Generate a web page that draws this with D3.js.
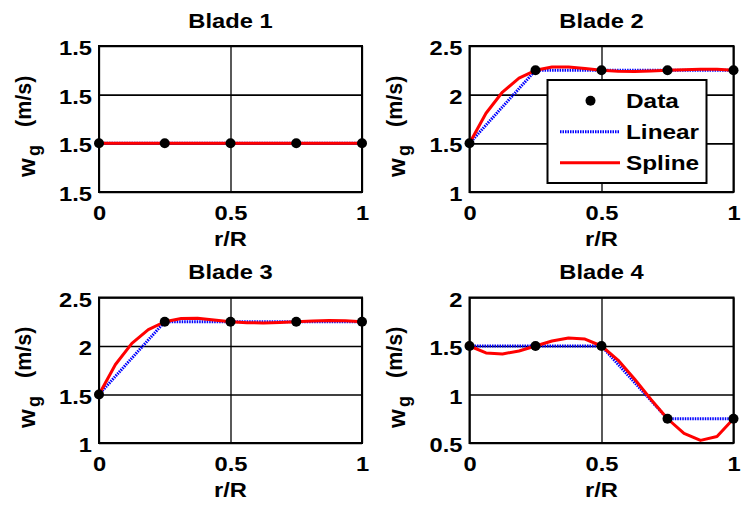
<!DOCTYPE html>
<html>
<head>
<meta charset="utf-8">
<script src="https://cdn.jsdelivr.net/npm/d3@7"></script>
<style>
  html, body { margin: 0; padding: 0; background: #fff; }
  text { font-family: "Liberation Sans", Arial, sans-serif; font-weight: bold; fill: #000; }
</style>
</head>
<body>
<svg id="chart" width="743" height="508"></svg>
<script>
// ---- data ----
const titles = ["Blade 1", "Blade 2", "Blade 3", "Blade 4"];
const xData = [0, 0.25, 0.5, 0.75, 1];
const blade1 = [1.5, 1.5, 1.5, 1.5, 1.5];
const blade2 = [1.5, 2.25, 2.25, 2.25, 2.25];
const blade3 = [1.5, 2.25, 2.25, 2.25, 2.25];
const blade4 = [1.5, 1.5, 1.5, 0.75, 0.75];
const xFine = [0, 0.0625, 0.125, 0.1875, 0.25, 0.3125, 0.375, 0.4375, 0.5,
               0.5625, 0.625, 0.6875, 0.75, 0.8125, 0.875, 0.9375, 1];
const spline1 = [1.5, 1.5, 1.5, 1.5, 1.5, 1.5, 1.5, 1.5, 1.5, 1.5, 1.5, 1.5, 1.5, 1.5, 1.5, 1.5, 1.5];
const spline2 = [1.5, 1.809, 2.027, 2.169, 2.25, 2.284, 2.285, 2.269, 2.25,
                 2.240, 2.238, 2.243, 2.25, 2.257, 2.262, 2.260, 2.25];
const spline3 = [1.5, 1.809, 2.027, 2.169, 2.25, 2.284, 2.285, 2.269, 2.25,
                 2.240, 2.238, 2.243, 2.25, 2.257, 2.262, 2.260, 2.25];
const spline4 = [1.5, 1.428, 1.418, 1.449, 1.5, 1.551, 1.582, 1.572, 1.5,
                 1.355, 1.160, 0.948, 0.75, 0.599, 0.527, 0.567, 0.75];
const xTicks = [0, 0.5, 1];
const yTicks1 = [1.4999, 1.5, 1.5001, 1.5002];
const yTicks2 = [1, 1.5, 2, 2.5];
const yTicks3 = [1, 1.5, 2, 2.5];
const yTicks4 = [0.5, 1, 1.5, 2];
const legendLabels = ["Data", "Linear", "Spline"];

const panels = [
  { title: titles[0], data: blade1, spline: spline1, yTicks: yTicks1, fmt: d3.format(".1f"),
    x0: 99, x1: 362, y0: 46, y1: 192 },
  { title: titles[1], data: blade2, spline: spline2, yTicks: yTicks2, fmt: d3.format("~g"),
    x0: 469.5, x1: 733.5, y0: 46, y1: 192, legend: true },
  { title: titles[2], data: blade3, spline: spline3, yTicks: yTicks3, fmt: d3.format("~g"),
    x0: 99, x1: 362, y0: 297.5, y1: 443 },
  { title: titles[3], data: blade4, spline: spline4, yTicks: yTicks4, fmt: d3.format("~g"),
    x0: 469.5, x1: 733.5, y0: 297.5, y1: 443 }
];

const svg = d3.select("#chart");
const FS = 21;
const SX = 1.13; // horizontal glyph stretch seen in the reference

function label(parent, x, y, str, size, anchor, rot, sx) {
  const g = parent.append("g")
    .attr("transform", `translate(${x},${y})${rot ? ` rotate(${rot})` : ""} scale(${sx || SX},1)`);
  return g.append("text").attr("text-anchor", anchor || "middle").attr("font-size", size).text(str);
}

panels.forEach(p => {
  const x = d3.scaleLinear().domain([0, 1]).range([p.x0, p.x1]);
  const y = d3.scaleLinear().domain([p.yTicks[0], p.yTicks[p.yTicks.length - 1]]).range([p.y1, p.y0]);
  const g = svg.append("g");

  // grid
  g.append("g").attr("transform", `translate(0,${p.y1})`)
    .call(d3.axisBottom(x).tickValues(xTicks).tickSize(-(p.y1 - p.y0)).tickFormat(""))
    .call(s => s.select(".domain").remove())
    .call(s => s.selectAll("line").attr("stroke", "#000").attr("stroke-width", 1.3));
  g.append("g").attr("transform", `translate(${p.x0},0)`)
    .call(d3.axisLeft(y).tickValues(p.yTicks).tickSize(-(p.x1 - p.x0)).tickFormat(""))
    .call(s => s.select(".domain").remove())
    .call(s => s.selectAll("line").attr("stroke", "#000").attr("stroke-width", 1.6));

  // tick labels
  g.append("g").attr("transform", `translate(0,${p.y1})`)
    .call(d3.axisBottom(x).tickValues(xTicks).tickSize(0).tickPadding(0).tickFormat(d3.format("~g")))
    .call(s => s.select(".domain").remove())
    .call(s => s.selectAll("text").attr("font-size", FS).attr("font-family", null)
      .attr("y", 0).attr("dy", null).attr("fill", "#000")
      .attr("transform", `translate(0,28) scale(${SX},1)`));
  g.append("g").attr("transform", `translate(${p.x0},0)`)
    .call(d3.axisLeft(y).tickValues(p.yTicks).tickSize(0).tickPadding(0).tickFormat(p.fmt))
    .call(s => s.select(".domain").remove())
    .call(s => s.selectAll("text").attr("font-size", FS).attr("font-family", null)
      .attr("x", 0).attr("dy", null).attr("fill", "#000")
      .attr("transform", `translate(-7,8.5) scale(${SX},1)`));

  // box
  g.append("rect").attr("x", p.x0).attr("y", p.y0)
    .attr("width", p.x1 - p.x0).attr("height", p.y1 - p.y0)
    .attr("fill", "none").attr("stroke", "#000").attr("stroke-width", 2);

  // linear
  const pts = xData.map((d, i) => [d, p.data[i]]);
  g.append("path").datum(pts)
    .attr("d", d3.line().x(d => x(d[0])).y(d => y(d[1])))
    .attr("fill", "none").attr("stroke", "#0000ff").attr("stroke-width", 3)
    .attr("stroke-dasharray", "1.5,1");
  // spline
  const sp = xFine.map((d, i) => [d, p.spline[i]]);
  g.append("path").datum(sp)
    .attr("d", d3.line().x(d => x(d[0])).y(d => y(d[1])))
    .attr("fill", "none").attr("stroke", "#ff0000").attr("stroke-width", 3)
    .attr("stroke-linejoin", "round");
  // data markers
  g.selectAll("circle.pt").data(pts).enter().append("circle")
    .attr("cx", d => x(d[0])).attr("cy", d => y(d[1])).attr("r", 5).attr("fill", "#000");

  // title
  label(g, (p.x0 + p.x1) / 2, p.y0 - 18.5, p.title, FS);
  // x label
  label(g, (p.x0 + p.x1) / 2, p.y1 + 54, "r/R", FS);
  // y label (rotated, starts at the bottom)
  const yl = label(g, p.x0 - 64.5, p.y1 - 15, "", FS, "start", -90, 1.0);
  yl.append("tspan").attr("x", 0).attr("y", 0).attr("font-size", 24).text("w");
  yl.append("tspan").attr("x", 21).attr("y", 5).attr("font-size", 18).text("g");
  yl.append("tspan").attr("x", 50).attr("y", -3.5).attr("font-size", 21.5).text("(m/s)");

  if (p.legend) {
    const lg = svg.append("g");
    lg.append("rect").attr("x", 547.5).attr("y", 80).attr("width", 159).attr("height", 103)
      .attr("fill", "#fff").attr("stroke", "#000").attr("stroke-width", 2);
    const rows = [100.7, 131.7, 162.7];
    lg.append("circle").attr("cx", 590.5).attr("cy", rows[0]).attr("r", 5).attr("fill", "#000");
    lg.append("line").attr("x1", 560).attr("x2", 620).attr("y1", rows[1]).attr("y2", rows[1])
      .attr("stroke", "#0000ff").attr("stroke-width", 3).attr("stroke-dasharray", "1.5,1");
    lg.append("line").attr("x1", 560).attr("x2", 620).attr("y1", rows[2]).attr("y2", rows[2])
      .attr("stroke", "#ff0000").attr("stroke-width", 3);
    legendLabels.forEach((t, i) => {
      label(lg, 626, rows[i] + 7.6, t, 21, "start", 0, 1.16);
    });
  }
});
</script>
</body>
</html>
